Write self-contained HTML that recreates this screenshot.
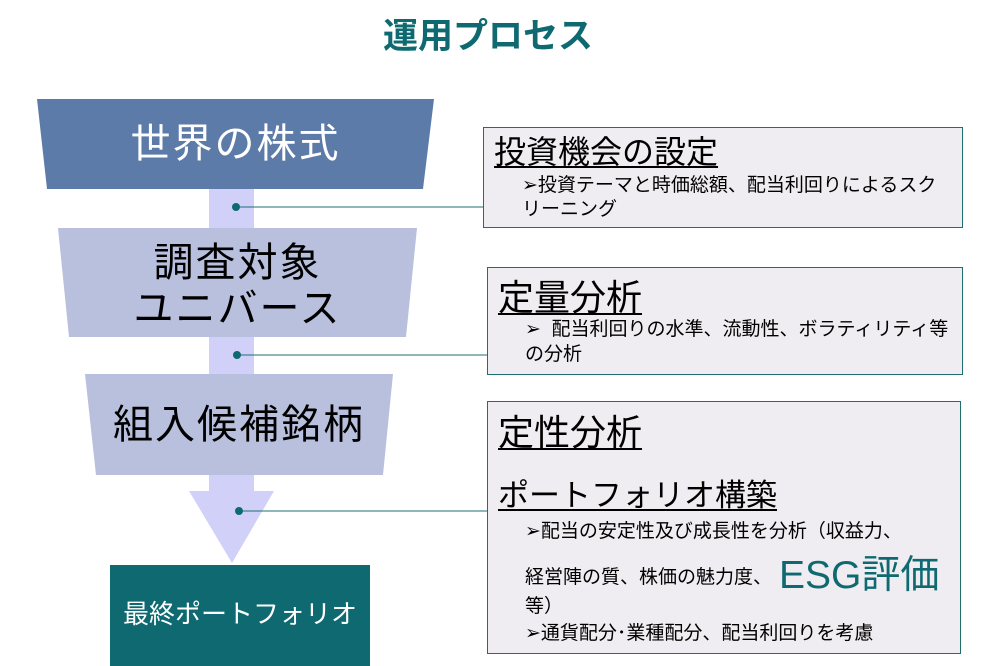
<!DOCTYPE html>
<html><head><meta charset="utf-8"><style>
body{margin:0;width:984px;height:666px;background:#fff;position:relative;overflow:hidden;font-family:"Liberation Sans","Noto Sans CJK JP",sans-serif;}
.t{position:absolute;white-space:nowrap;line-height:1;}
.box{position:absolute;background:#efedf1;border:1px solid #1f6f70;box-sizing:border-box;}
.h{font-size:32px;text-decoration:underline;text-decoration-thickness:2px;text-underline-offset:3px;color:#000;}
.b{font-size:19px;color:#000;}
</style></head><body>
<svg width="984" height="666" style="position:absolute;left:0;top:0">
<rect x="209" y="185" width="45" height="310" fill="#d1d0f9"/>
<polygon points="189,491 274,491 232,563" fill="#d1d0f9"/>
<polygon points="37,99 434,99 423,189 47,189" fill="#5d7ba8"/>
<polygon points="58,228 417,228 406,337 69,337" fill="#b8c0dd"/>
<polygon points="85,374 393,374 383,475 96,475" fill="#b8c0dd"/>
<rect x="110" y="565" width="260" height="101" fill="#0e6a70"/>
<line x1="236" y1="207" x2="484" y2="207" stroke="#1f6f70" stroke-width="1"/>
<line x1="237" y1="355" x2="488" y2="355" stroke="#1f6f70" stroke-width="1"/>
<line x1="239" y1="511" x2="488" y2="511" stroke="#1f6f70" stroke-width="1"/>
<circle cx="236" cy="207" r="4" fill="#0e6a70"/>
<circle cx="237" cy="355" r="4" fill="#0e6a70"/>
<circle cx="239" cy="511" r="4" fill="#0e6a70"/>
</svg>
<div class="t" style="left:383px;top:19px;font-size:35px;font-weight:bold;color:#0e6a70;">運用プロセス</div>
<div class="t" style="left:37px;width:397px;text-align:center;top:124px;font-size:40px;color:#fff;letter-spacing:2px;">世界の株式</div>
<div class="t" style="left:58px;width:359px;text-align:center;top:240px;font-size:40px;color:#000;letter-spacing:2px;line-height:46px;">調査対象<br>ユニバース</div>
<div class="t" style="left:85px;width:308px;text-align:center;top:405px;font-size:40px;color:#000;letter-spacing:2px;">組入候補銘柄</div>
<div class="t" style="left:110px;width:260px;text-align:center;top:601px;font-size:26px;color:#fff;">最終ポートフォリオ</div>

<div class="box" style="left:483px;top:127px;width:480px;height:101px;"></div>
<div class="t h" style="left:494px;top:136px;">投資機会の設定</div>
<div class="t b" style="left:522px;top:176px;">➢投資テーマと時価総額、配当利回りによるスク</div>
<div class="t b" style="left:522px;top:200px;">リーニング</div>

<div class="box" style="left:487px;top:267px;width:476px;height:108px;"></div>
<div class="t h" style="left:498px;top:280px;font-size:36px;">定量分析</div>
<div class="t b" style="left:525px;top:320px;">➢&nbsp;&nbsp;配当利回りの水準、流動性、ボラティリティ等</div>
<div class="t b" style="left:525px;top:345px;">の分析</div>

<div class="box" style="left:487px;top:401px;width:474px;height:253px;"></div>
<div class="t h" style="left:498px;top:415px;font-size:36px;">定性分析</div>
<div class="t h" style="left:498px;top:480px;font-size:31px;">ポートフォリオ構築</div>
<div class="t b" style="left:525px;top:522px;">➢配当の安定性及び成長性を分析（収益力、</div>
<div class="t b" style="left:525px;top:568px;">経営陣の質、株価の魅力度、</div>
<div class="t" style="left:779px;top:556px;font-size:39px;color:#0e6a70;">ESG評価</div>
<div class="t b" style="left:525px;top:597px;">等）</div>
<div class="t b" style="left:525px;top:624px;">➢通貨配分･業種配分、配当利回りを考慮</div>
</body></html>
